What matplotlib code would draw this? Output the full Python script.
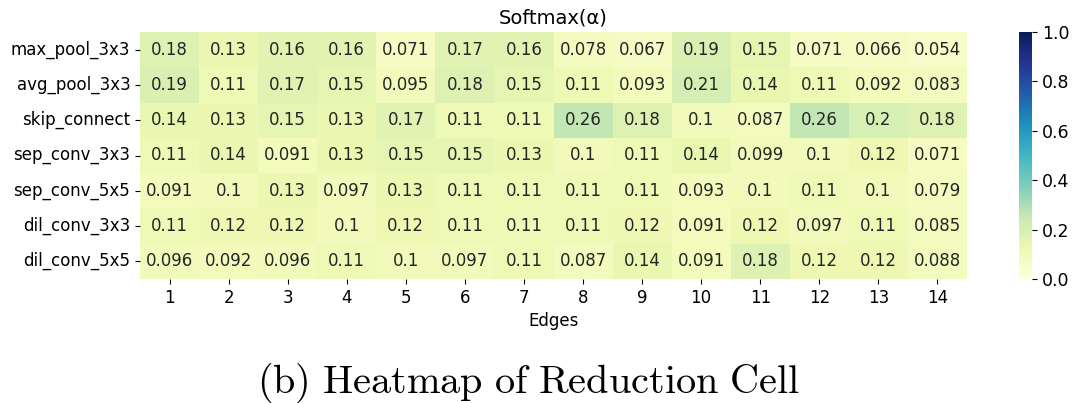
import numpy as np
import matplotlib
matplotlib.use("Agg")
import matplotlib.pyplot as plt
import seaborn as sns

ops = ["max_pool_3x3", "avg_pool_3x3", "skip_connect", "sep_conv_3x3",
       "sep_conv_5x5", "dil_conv_3x3", "dil_conv_5x5"]
edges = [str(i) for i in range(1, 15)]

max_pool = [0.18, 0.13, 0.16, 0.16, 0.071, 0.17, 0.16, 0.078, 0.067, 0.19, 0.15, 0.071, 0.066, 0.054]
avg_pool = [0.19, 0.11, 0.17, 0.15, 0.095, 0.18, 0.15, 0.11, 0.093, 0.21, 0.14, 0.11, 0.092, 0.083]
skip_connect = [0.14, 0.13, 0.15, 0.13, 0.17, 0.11, 0.11, 0.26, 0.18, 0.1, 0.087, 0.26, 0.2, 0.18]
sep_conv_3 = [0.11, 0.14, 0.091, 0.13, 0.15, 0.15, 0.13, 0.1, 0.11, 0.14, 0.099, 0.1, 0.12, 0.071]
sep_conv_5 = [0.091, 0.1, 0.13, 0.097, 0.13, 0.11, 0.11, 0.11, 0.11, 0.093, 0.1, 0.11, 0.1, 0.079]
dil_conv_3 = [0.11, 0.12, 0.12, 0.1, 0.12, 0.11, 0.11, 0.11, 0.12, 0.091, 0.12, 0.097, 0.11, 0.085]
dil_conv_5 = [0.096, 0.092, 0.096, 0.11, 0.1, 0.097, 0.11, 0.087, 0.14, 0.091, 0.18, 0.12, 0.12, 0.088]

data = np.array([max_pool, avg_pool, skip_connect, sep_conv_3, sep_conv_5, dil_conv_3, dil_conv_5])

plt.rcParams['mathtext.fontset'] = 'cm'
W, H = 1073, 403
fig = plt.figure(figsize=(W / 100, H / 100), dpi=100)
ax = fig.add_axes([140 / W, 1 - 279 / H, (967 - 140) / W, (279 - 32) / H])
cax = fig.add_axes([1019 / W, 1 - 279 / H, 13 / W, (279 - 32) / H])

sns.heatmap(data, ax=ax, cbar_ax=cax, cmap="YlGnBu", vmin=0, vmax=1,
            annot=True, fmt=".2g", annot_kws={"fontsize": 12},
            xticklabels=edges, yticklabels=ops)
ax.tick_params(axis='both', labelsize=12)
ax.set_yticklabels(ops, rotation=0)
ax.set_xticklabels(edges, rotation=0)
ax.set_xlabel("Edges", fontsize=12)
ax.set_title("Softmax(α)", fontsize=14)
cax.tick_params(labelsize=12.5)
cbar = ax.collections[0].colorbar
cbar.outline.set_visible(False)

fig.text(529 / W, 1 - 383 / H, r"$\mathrm{(b)\ Heatmap\ of\ Reduction\ Cell}$",
         ha="center", va="center", fontsize=29)

fig.savefig("out.png", dpi=100)
